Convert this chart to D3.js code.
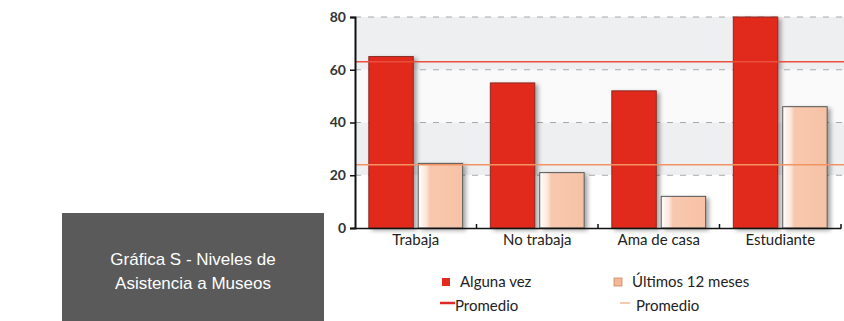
<!DOCTYPE html>
<html>
<head>
<meta charset="utf-8">
<script src="https://cdn.jsdelivr.net/npm/d3@7"></script>
<style>
  body { margin: 0; background: #fff; }
  svg { display: block; }
</style>
</head>
<body>
<div id="chart"></div>
<script>
const categories = ["Trabaja", "No trabaja", "Ama de casa", "Estudiante"];
const seriesNames = ["Alguna vez", "Últimos 12 meses"];
const algunaVez = [65, 55, 52, 80];
const ultimos12 = [24.5, 21, 12, 46];
const promedios = [63, 24];
const yTicks = [0, 20, 40, 60, 80];

const width = 844;
const height = 321;
const margin = { top: 17, right: 3, bottom: 93, left: 355 };
const zeroY = 228;

const svg = d3.select("#chart")
  .append("svg")
  .attr("width", width)
  .attr("height", height);

const defs = svg.append("defs");
defs.append("filter")
  .attr("id", "shadow")
  .attr("x", "-20%").attr("y", "-10%")
  .attr("width", "160%").attr("height", "130%")
  .append("feDropShadow")
  .attr("dx", 3).attr("dy", 2)
  .attr("stdDeviation", 2)
  .attr("flood-color", "#000")
  .attr("flood-opacity", 0.35);

const peachGrad = defs.append("linearGradient")
  .attr("id", "peach")
  .attr("x1", "0%").attr("x2", "100%");
peachGrad.append("stop").attr("offset", "0%").attr("stop-color", "#ffffff");
peachGrad.append("stop").attr("offset", "18%").attr("stop-color", "#fce6da");
peachGrad.append("stop").attr("offset", "26%").attr("stop-color", "#f8c8ae");
peachGrad.append("stop").attr("offset", "100%").attr("stop-color", "#f6c2a6");

// scales
const x = d3.scaleBand()
  .domain(categories)
  .range([margin.left, 841]);

const xSub = d3.scaleBand()
  .domain(seriesNames)
  .range([0, x.bandwidth()])
  .paddingInner(0.1)
  .paddingOuter(0.28);

const y = d3.scaleLinear()
  .domain([0, 80])
  .range([zeroY, margin.top]);

// background bands
const bands = [[60, 80, "#eeeff1"], [40, 60, "#fafafa"], [20, 40, "#eeeff1"], [0, 20, "#ffffff"]];
svg.append("g")
  .selectAll("rect")
  .data(bands)
  .join("rect")
  .attr("x", margin.left)
  .attr("y", d => y(d[1]))
  .attr("width", width - margin.left)
  .attr("height", d => y(d[0]) - y(d[1]))
  .attr("fill", d => d[2]);

// dashed gridlines
svg.append("g")
  .selectAll("line")
  .data(yTicks.filter(d => d > 0))
  .join("line")
  .attr("x1", margin.left)
  .attr("x2", width)
  .attr("y1", d => y(d))
  .attr("y2", d => y(d))
  .attr("stroke", "#a8a8a8")
  .attr("stroke-width", 1)
  .attr("stroke-dasharray", "6,7");

// bars
const data = categories.map((c, i) => ({ cat: c, values: [algunaVez[i], ultimos12[i]] }));
const groups = svg.append("g")
  .selectAll("g")
  .data(data)
  .join("g")
  .attr("transform", d => `translate(${x(d.cat)},0)`);

groups.selectAll("rect")
  .data(d => d.values.map((v, j) => ({ key: seriesNames[j], v: v, j: j })))
  .join("rect")
  .attr("x", d => xSub(d.key))
  .attr("y", d => y(d.v))
  .attr("width", xSub.bandwidth())
  .attr("height", d => y(0) - y(d.v))
  .attr("fill", d => d.j === 0 ? "#e22a1e" : "url(#peach)")
  .attr("stroke", d => d.j === 0 ? "#8a2a22" : "#555")
  .attr("stroke-width", 1)
  .attr("filter", "url(#shadow)");

// average lines
const lineColors = ["#e8503c", "#f29462"];
svg.append("g")
  .selectAll("line")
  .data(promedios)
  .join("line")
  .attr("x1", margin.left)
  .attr("x2", width)
  .attr("y1", d => y(d))
  .attr("y2", d => y(d))
  .attr("stroke", (d, i) => lineColors[i])
  .attr("stroke-width", 1.5);

// axes
const yAxis = svg.append("g")
  .attr("transform", `translate(${margin.left},0)`)
  .call(d3.axisLeft(y).tickValues(yTicks).tickSize(5).tickPadding(4));
yAxis.select(".domain").attr("stroke", "#111").attr("stroke-width", 2);
yAxis.selectAll(".tick line").attr("stroke", "#111").attr("stroke-width", 1.5);
yAxis.selectAll(".tick text")
  .attr("font-family", "Lato, 'Open Sans', sans-serif")
  .attr("font-weight", "bold")
  .attr("font-size", 14)
  .attr("fill", "#333");

const xAxis = svg.append("g")
  .attr("transform", `translate(0,${y(0)})`)
  .call(d3.axisBottom(x).tickSize(0).tickPadding(6));
xAxis.select(".domain").attr("stroke", "#111").attr("stroke-width", 1.5);
xAxis.selectAll(".tick text")
  .attr("font-family", "Lato, 'Open Sans', sans-serif")
  .attr("font-size", 15)
  .attr("fill", "#222");

// small separators under the x axis
svg.append("g")
  .selectAll("line")
  .data(categories)
  .join("line")
  .attr("x1", d => x(d) + x.bandwidth())
  .attr("x2", d => x(d) + x.bandwidth())
  .attr("y1", y(0))
  .attr("y2", y(0) - 4)
  .attr("stroke", "#111")
  .attr("stroke-width", 1.5);

// legend
const legendX = [442, 614];
const legend = svg.append("g")
  .attr("font-family", "Lato, 'Open Sans', sans-serif")
  .attr("font-size", 15)
  .attr("fill", "#222");

legend.selectAll("rect")
  .data(seriesNames)
  .join("rect")
  .attr("x", (d, i) => legendX[i])
  .attr("y", 278)
  .attr("width", 8)
  .attr("height", 8)
  .attr("fill", (d, i) => i === 0 ? "#e22a1e" : "#f4b896")
  .attr("stroke", (d, i) => i === 0 ? "none" : "#c98a6a")
  .attr("stroke-width", 0.8);

legend.selectAll("text.s")
  .data(seriesNames)
  .join("text")
  .attr("class", "s")
  .attr("x", (d, i) => legendX[i] + 18)
  .attr("y", 287)
  .text(d => d);

const legLine = [[440, 455, "#e02a2a", 2.5], [620, 630, "#f5b894", 1.5]];
legend.selectAll("line")
  .data(legLine)
  .join("line")
  .attr("x1", d => d[0])
  .attr("x2", d => d[1])
  .attr("y1", 303)
  .attr("y2", 303)
  .attr("stroke", d => d[2])
  .attr("stroke-width", d => d[3]);

legend.selectAll("text.p")
  .data(legLine)
  .join("text")
  .attr("class", "p")
  .attr("x", d => d[1] + (d[1] === 455 ? 0 : 6))
  .attr("y", 311)
  .text("Promedio");

// title box
const boxX = 62, boxW = 262;
svg.append("rect")
  .attr("x", boxX)
  .attr("y", 213)
  .attr("width", boxW)
  .attr("height", height - 213)
  .attr("fill", "#5a5a5a");

svg.append("g")
  .selectAll("text")
  .data(["Gráfica S - Niveles de", "Asistencia a Museos"])
  .join("text")
  .attr("x", boxX + boxW / 2)
  .attr("y", (d, i) => 265 + i * 24)
  .attr("text-anchor", "middle")
  .attr("font-family", "'Liberation Sans', Arial, sans-serif")
  .attr("font-size", 17)
  .attr("fill", "#ffffff")
  .text(d => d);
</script>
</body>
</html>
